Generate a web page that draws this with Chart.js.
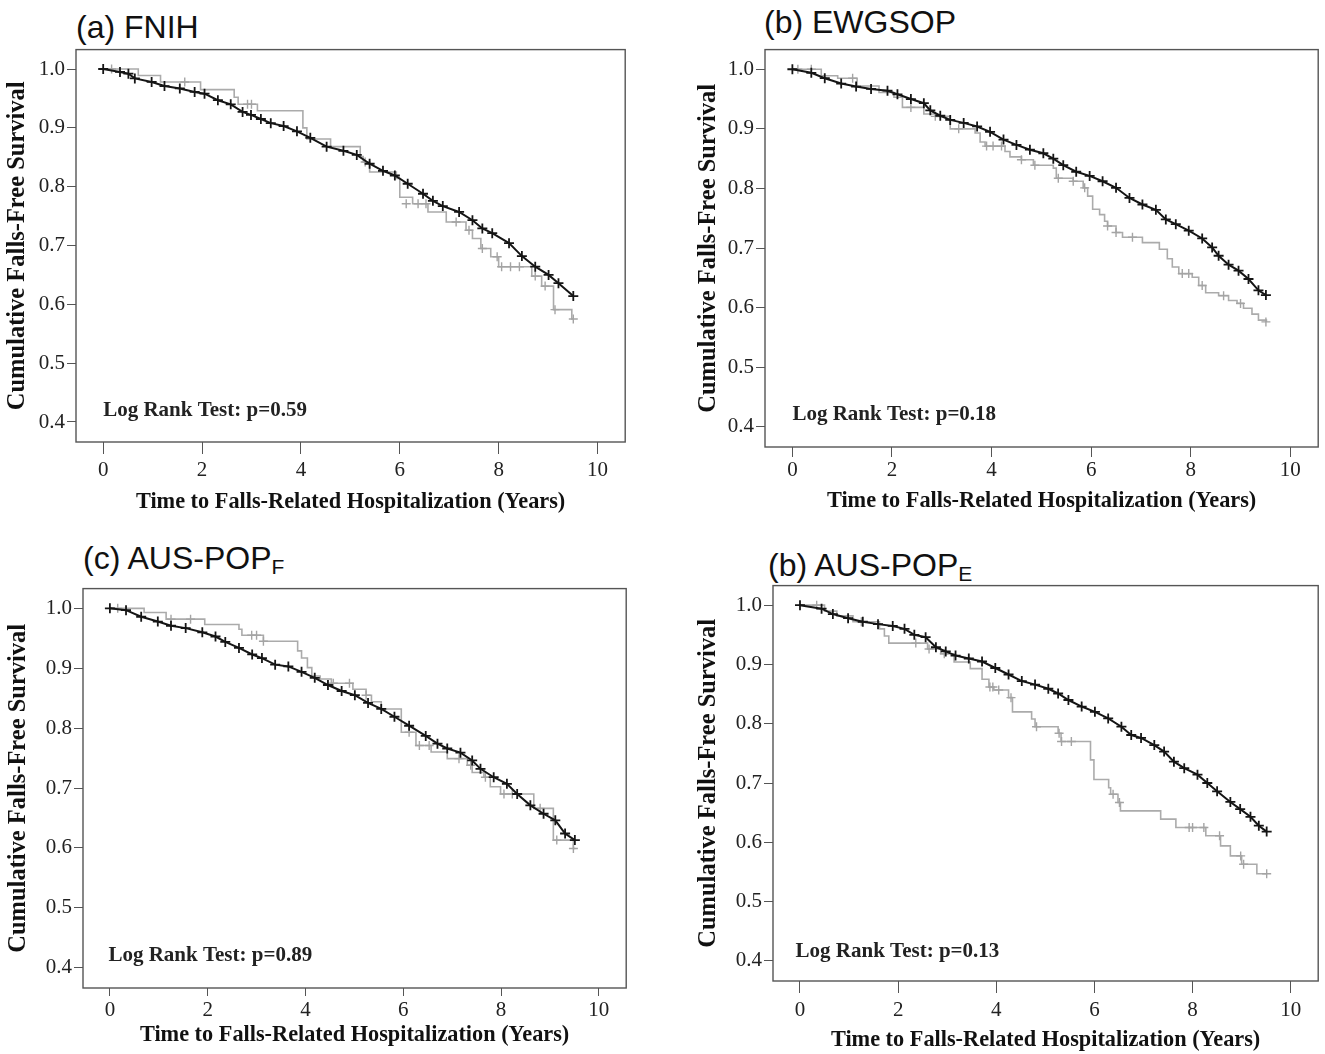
<!DOCTYPE html>
<html lang="en">
<head>
<meta charset="UTF-8">
<title>Falls-free survival by sarcopenia definition</title>
<script src="https://cdn.jsdelivr.net/npm/chart.js@4.4.0/dist/chart.umd.min.js"></script>
<style>
    body { margin: 0; background: #fff; width: 1325px; height: 1054px; position: relative; overflow: hidden; }
    canvas { position: absolute; }
    .panelTitle {
        position: absolute; font-family: "Liberation Sans", Arial, sans-serif;
        font-size: 32px; line-height: 32px; color: #111; white-space: nowrap;
    }
    .panelTitle sub { font-size: 21px; line-height: 0; vertical-align: -5px; }
</style>
</head>
<body>
<div class="panelTitle" style="left:76px; top:11px;">(a) FNIH</div>
<div class="panelTitle" style="left:764px; top:6px;">(b) EWGSOP</div>
<div class="panelTitle" style="left:83px; top:542px;">(c) AUS-POP<sub>F</sub></div>
<div class="panelTitle" style="left:768px; top:549px;">(b) AUS-POP<sub>E</sub></div>

<canvas id="chartA"></canvas>
<canvas id="chartB"></canvas>
<canvas id="chartC"></canvas>
<canvas id="chartD"></canvas>

<script>
    // axis ticks + titles
    const xTicks = [0, 2, 4, 6, 8, 10];
    const yTicks = [0.4, 0.5, 0.6, 0.7, 0.8, 0.9, 1.0];
    const xTitle = 'Time to Falls-Related Hospitalization (Years)';
    const yTitle = 'Cumulative Falls-Free Survival';

    // (a) FNIH  - black: not sarcopenic, gray: sarcopenic
    const aBlackT = [0, 0.34, 0.51, 0.64, 0.98, 1.24, 1.55, 1.85, 2.05, 2.32, 2.58, 2.82, 2.99, 3.19, 3.39, 3.65, 3.92, 4.19, 4.52, 4.86, 5.13, 5.39, 5.66, 5.90, 6.16, 6.47, 6.67, 6.87, 7.20, 7.47, 7.67, 7.87, 8.21, 8.47, 8.74, 9.01, 9.21, 9.51];
    const aBlackS = [1.0, 0.995, 0.992, 0.984, 0.978, 0.971, 0.967, 0.961, 0.958, 0.947, 0.940, 0.927, 0.922, 0.915, 0.908, 0.903, 0.894, 0.883, 0.868, 0.861, 0.854, 0.839, 0.827, 0.819, 0.805, 0.788, 0.776, 0.767, 0.757, 0.743, 0.729, 0.721, 0.704, 0.682, 0.664, 0.650, 0.636, 0.614];
    const aGrayT = [0, 0.71, 1.16, 1.97, 2.65, 2.73, 3.12, 4.04, 4.12, 4.6, 5.2, 5.26, 5.39, 5.93, 6.0, 6.26, 6.57, 6.94, 7.34, 7.47, 7.64, 7.84, 8.0, 8.67, 8.87, 9.11, 9.48, 9.52];
    const aGrayS = [1.0, 0.989, 0.978, 0.965, 0.952, 0.94, 0.929, 0.90, 0.881, 0.868, 0.851, 0.842, 0.825, 0.814, 0.782, 0.771, 0.757, 0.74, 0.726, 0.712, 0.695, 0.681, 0.664, 0.648, 0.631, 0.591, 0.575, 0.575];
    const aCensT = [0.17, 1.65, 2.92, 3.0, 5.3, 6.13, 6.37, 6.53, 7.14, 7.4, 7.67, 7.97, 8.06, 8.24, 8.42, 8.74, 8.94, 9.14, 9.51];
    const aCensS = [1.0, 0.978, 0.94, 0.94, 0.842, 0.771, 0.771, 0.771, 0.74, 0.726, 0.695, 0.681, 0.664, 0.664, 0.664, 0.648, 0.631, 0.591, 0.575];

    // (b) EWGSOP
    const bBlackT = [0, 0.38, 0.65, 0.98, 1.28, 1.58, 1.91, 2.11, 2.38, 2.64, 2.77, 2.97, 3.17, 3.44, 3.71, 3.97, 4.24, 4.50, 4.77, 5.04, 5.24, 5.44, 5.70, 5.97, 6.23, 6.50, 6.77, 7.03, 7.30, 7.50, 7.70, 7.96, 8.23, 8.43, 8.56, 8.76, 8.96, 9.16, 9.36, 9.51];
    const bBlackS = [1.0, 0.994, 0.985, 0.976, 0.971, 0.967, 0.964, 0.958, 0.950, 0.943, 0.931, 0.922, 0.915, 0.910, 0.904, 0.895, 0.882, 0.873, 0.865, 0.859, 0.850, 0.839, 0.828, 0.821, 0.812, 0.801, 0.784, 0.773, 0.764, 0.748, 0.740, 0.729, 0.716, 0.701, 0.687, 0.672, 0.662, 0.648, 0.629, 0.621];
    const bGrayT = [0, 0.58, 0.91, 1.3, 1.74, 2.04, 2.21, 2.64, 2.87, 3.17, 3.67, 3.77, 3.87, 4.27, 4.37, 4.6, 4.84, 5.24, 5.30, 5.64, 5.84, 5.93, 6.03, 6.17, 6.27, 6.33, 6.5, 6.63, 7.03, 7.37, 7.53, 7.63, 7.76, 8.03, 8.16, 8.3, 8.56, 8.76, 8.93, 9.06, 9.23, 9.36, 9.52];
    const bGrayS = [1.0, 0.989, 0.985, 0.972, 0.961, 0.953, 0.936, 0.925, 0.921, 0.90, 0.893, 0.878, 0.871, 0.862, 0.853, 0.848, 0.839, 0.834, 0.817, 0.812, 0.801, 0.787, 0.765, 0.756, 0.745, 0.737, 0.726, 0.718, 0.709, 0.698, 0.682, 0.668, 0.657, 0.651, 0.637, 0.625, 0.620, 0.612, 0.607, 0.599, 0.589, 0.579, 0.576];
    const bCensT = [0.11, 0.38, 1.21, 2.38, 2.87, 3.34, 3.9, 4.03, 4.2, 4.6, 4.87, 5.34, 5.64, 5.87, 6.33, 6.5, 6.83, 7.83, 7.96, 8.23, 8.66, 9.0, 9.51];
    const bCensS = [1.0, 1.0, 0.985, 0.936, 0.921, 0.90, 0.871, 0.871, 0.871, 0.848, 0.839, 0.817, 0.812, 0.801, 0.737, 0.726, 0.718, 0.657, 0.657, 0.637, 0.620, 0.607, 0.576];

    // (c) AUS-POP F
    const cBlackT = [0, 0.33, 0.64, 0.98, 1.25, 1.55, 1.89, 2.16, 2.36, 2.64, 2.91, 3.11, 3.38, 3.65, 3.92, 4.19, 4.46, 4.74, 5.01, 5.28, 5.55, 5.82, 6.12, 6.46, 6.70, 6.90, 7.17, 7.41, 7.58, 7.85, 8.12, 8.33, 8.60, 8.87, 9.11, 9.31, 9.51];
    const cBlackS = [1.0, 0.997, 0.986, 0.978, 0.971, 0.967, 0.960, 0.953, 0.944, 0.934, 0.923, 0.917, 0.906, 0.903, 0.894, 0.884, 0.872, 0.862, 0.855, 0.842, 0.832, 0.819, 0.804, 0.787, 0.774, 0.766, 0.759, 0.746, 0.732, 0.718, 0.707, 0.690, 0.671, 0.657, 0.646, 0.624, 0.613];
    const cGrayT = [0, 0.70, 1.15, 1.94, 2.64, 2.70, 3.14, 3.84, 3.92, 4.04, 4.13, 4.30, 4.53, 4.97, 5.24, 5.35, 5.55, 5.96, 6.26, 6.57, 6.90, 7.31, 7.41, 7.65, 7.78, 7.99, 8.67, 9.07, 9.48, 9.52];
    const cGrayS = [1.0, 0.993, 0.982, 0.973, 0.965, 0.955, 0.945, 0.929, 0.917, 0.901, 0.887, 0.882, 0.875, 0.865, 0.855, 0.844, 0.832, 0.793, 0.771, 0.760, 0.749, 0.738, 0.726, 0.718, 0.702, 0.690, 0.666, 0.613, 0.599, 0.599];
    const cCensT = [0.16, 1.25, 1.65, 2.9, 3.0, 3.14, 4.57, 4.9, 5.24, 6.12, 6.33, 6.53, 7.14, 7.38, 7.68, 8.06, 8.23, 8.8, 9.14, 9.48];
    const cCensS = [1.0, 0.982, 0.982, 0.955, 0.955, 0.945, 0.875, 0.875, 0.855, 0.793, 0.771, 0.771, 0.749, 0.738, 0.718, 0.690, 0.690, 0.666, 0.613, 0.599];

    // (d) AUS-POP E
    const dBlackT = [0, 0.44, 0.67, 0.98, 1.28, 1.59, 1.89, 2.13, 2.33, 2.56, 2.77, 2.97, 3.17, 3.44, 3.71, 3.98, 4.25, 4.52, 4.79, 5.06, 5.26, 5.47, 5.74, 6.01, 6.28, 6.55, 6.75, 6.95, 7.22, 7.42, 7.62, 7.83, 8.10, 8.30, 8.50, 8.77, 8.97, 9.18, 9.35, 9.51];
    const dBlackS = [1.0, 0.994, 0.985, 0.978, 0.972, 0.968, 0.965, 0.960, 0.950, 0.946, 0.929, 0.922, 0.915, 0.910, 0.905, 0.894, 0.883, 0.872, 0.866, 0.859, 0.851, 0.840, 0.829, 0.820, 0.809, 0.795, 0.781, 0.776, 0.764, 0.753, 0.736, 0.725, 0.714, 0.700, 0.686, 0.668, 0.656, 0.643, 0.628, 0.618];
    const dGrayT = [0, 0.5, 0.75, 1.08, 1.62, 1.72, 1.81, 2.60, 2.87, 3.14, 3.47, 3.71, 3.85, 3.95, 4.25, 4.33, 4.72, 4.79, 5.26, 5.32, 5.92, 5.99, 6.29, 6.33, 6.48, 6.53, 7.35, 7.66, 8.27, 8.57, 8.77, 9.0, 9.31, 9.52];
    const dGrayS = [1.0, 0.99, 0.982, 0.972, 0.960, 0.948, 0.936, 0.926, 0.918, 0.904, 0.893, 0.875, 0.862, 0.857, 0.844, 0.820, 0.808, 0.795, 0.784, 0.770, 0.739, 0.706, 0.692, 0.681, 0.667, 0.653, 0.639, 0.625, 0.611, 0.594, 0.577, 0.563, 0.547, 0.547];
    const dCensT = [0.34, 1.25, 2.36, 2.63, 2.94, 3.87, 3.93, 4.05, 4.3, 4.82, 5.28, 5.33, 5.53, 6.38, 6.51, 7.93, 8.0, 8.23, 8.55, 8.98, 9.04, 9.51];
    const dCensS = [1.0, 0.972, 0.936, 0.926, 0.918, 0.862, 0.862, 0.857, 0.844, 0.795, 0.784, 0.770, 0.770, 0.681, 0.667, 0.625, 0.625, 0.625, 0.611, 0.577, 0.563, 0.547];

    const logRankText = ['Log Rank Test: p=0.59', 'Log Rank Test: p=0.18', 'Log Rank Test: p=0.89', 'Log Rank Test: p=0.13'];

    // where each plot box sits on the page
    const panels = [
        { id: 'chartA', box: [76, 47, 629, 442], yTitleX: 18, xTitleY: 503, tickLen: 12, tickPad: 4, logT: 0, logS: 0.42,
          black: [aBlackT, aBlackS], gray: [aGrayT, aGrayS], cens: [aCensT, aCensS], text: logRankText[0] },
        { id: 'chartB', box: [765, 47, 1322, 447], yTitleX: 709, xTitleY: 502, tickLen: 10, tickPad: 1, logT: 0, logS: 0.42,
          black: [bBlackT, bBlackS], gray: [bGrayT, bGrayS], cens: [bCensT, bCensS], text: logRankText[1] },
        { id: 'chartC', box: [83, 586, 630, 988], yTitleX: 19, xTitleY: 1036, tickLen: 8, tickPad: 2, logT: -0.03, logS: 0.42,
          black: [cBlackT, cBlackS], gray: [cGrayT, cGrayS], cens: [cCensT, cCensS], text: logRankText[2] },
        { id: 'chartD', box: [773, 583, 1322, 981], yTitleX: 709, xTitleY: 1041, tickLen: 12, tickPad: 5, logT: -0.09, logS: 0.415,
          black: [dBlackT, dBlackS], gray: [dGrayT, dGrayS], cens: [dCensT, dCensS], text: logRankText[3] }
    ];

    const serif = '"Liberation Serif", "Times New Roman", serif';

    function toPoints(ts, ss) {
        return ts.map((t, i) => ({ x: t, y: ss[i] }));
    }

    const boxPlugin = {
        id: 'box',
        afterDraw(chart) {
            const { ctx, chartArea: a } = chart;
            ctx.save();
            ctx.strokeStyle = '#555';
            ctx.lineWidth = 1.4;
            ctx.strokeRect(a.left, a.top, a.right - a.left, a.bottom - a.top);
            ctx.restore();
        }
    };

    const logRankPlugin = {
        id: 'logRank',
        afterDatasetsDraw(chart, args, opts) {
            const { ctx, scales } = chart;
            ctx.save();
            ctx.font = 'bold 21px ' + serif;
            ctx.fillStyle = '#222';
            ctx.textBaseline = 'middle';
            ctx.fillText(opts.text, scales.x.getPixelForValue(opts.t), scales.y.getPixelForValue(opts.s));
            ctx.restore();
        }
    };

    panels.forEach(p => {
        const [bl, bt, br, bb] = p.box;
        const left = p.yTitleX - 20;
        const top = bt - 12;
        const width = br + 3 - left;
        const height = p.xTitleY + 16 - top;

        const canvas = document.getElementById(p.id);
        canvas.width = width;
        canvas.height = height;
        canvas.style.left = left + 'px';
        canvas.style.top = top + 'px';
        canvas.style.width = width + 'px';
        canvas.style.height = height + 'px';

        new Chart(canvas.getContext('2d'), {
            type: 'line',
            data: {
                datasets: [{
                    data: toPoints(p.black[0], p.black[1]),
                    borderColor: '#151515',
                    borderWidth: 2,
                    tension: 0,
                    pointStyle: 'cross',
                    pointRadius: 5,
                    pointBorderWidth: 1.8,
                    pointBorderColor: '#151515'
                }, {
                    data: toPoints(p.cens[0], p.cens[1]),
                    showLine: false,
                    pointStyle: 'cross',
                    pointRadius: 4.5,
                    pointBorderWidth: 1.4,
                    pointBorderColor: '#a4a4a4'
                }, {
                    data: toPoints(p.gray[0], p.gray[1]),
                    borderColor: '#ababab',
                    borderWidth: 1.6,
                    stepped: 'before',
                    pointRadius: 0
                }]
            },
            options: {
                responsive: false,
                animation: false,
                events: [],
                layout: { padding: { top: 12, right: 3, left: 0, bottom: 0 } },
                plugins: {
                    legend: { display: false },
                    tooltip: { enabled: false },
                    logRank: { text: p.text, t: p.logT, s: p.logS }
                },
                scales: {
                    x: {
                        type: 'linear',
                        min: -0.55,
                        max: 10.56,
                        afterBuildTicks: s => { s.ticks = xTicks.map(v => ({ value: v })); },
                        afterFit: s => { s.height = height - (bb - top); },
                        grid: { drawOnChartArea: false, tickLength: p.tickLen, color: '#555' },
                        border: { display: false },
                        ticks: {
                            padding: p.tickPad, maxRotation: 0, color: '#222',
                            font: { family: serif, size: 21, lineHeight: 1.2 },
                            callback: v => String(v)
                        },
                        title: {
                            display: true, text: xTitle, color: '#111',
                            font: { family: serif, size: 22.3, weight: 'bold', lineHeight: 1.2 },
                            padding: { top: 0, bottom: 3 }
                        }
                    },
                    y: {
                        min: 0.366,
                        max: 1.033,
                        afterBuildTicks: s => { s.ticks = yTicks.map(v => ({ value: v })); },
                        afterFit: s => { s.width = bl - left; },
                        grid: { drawOnChartArea: false, tickLength: 9, color: '#555' },
                        border: { display: false },
                        ticks: {
                            padding: 2, color: '#222',
                            font: { family: serif, size: 21, lineHeight: 1.2 },
                            callback: v => v.toFixed(1)
                        },
                        title: {
                            display: true, text: yTitle, color: '#111',
                            font: { family: serif, size: 24.5, weight: 'bold', lineHeight: 1.2 },
                            padding: { top: 5, bottom: 0 }
                        }
                    }
                }
            },
            plugins: [boxPlugin, logRankPlugin]
        });
    });
</script>
</body>
</html>
